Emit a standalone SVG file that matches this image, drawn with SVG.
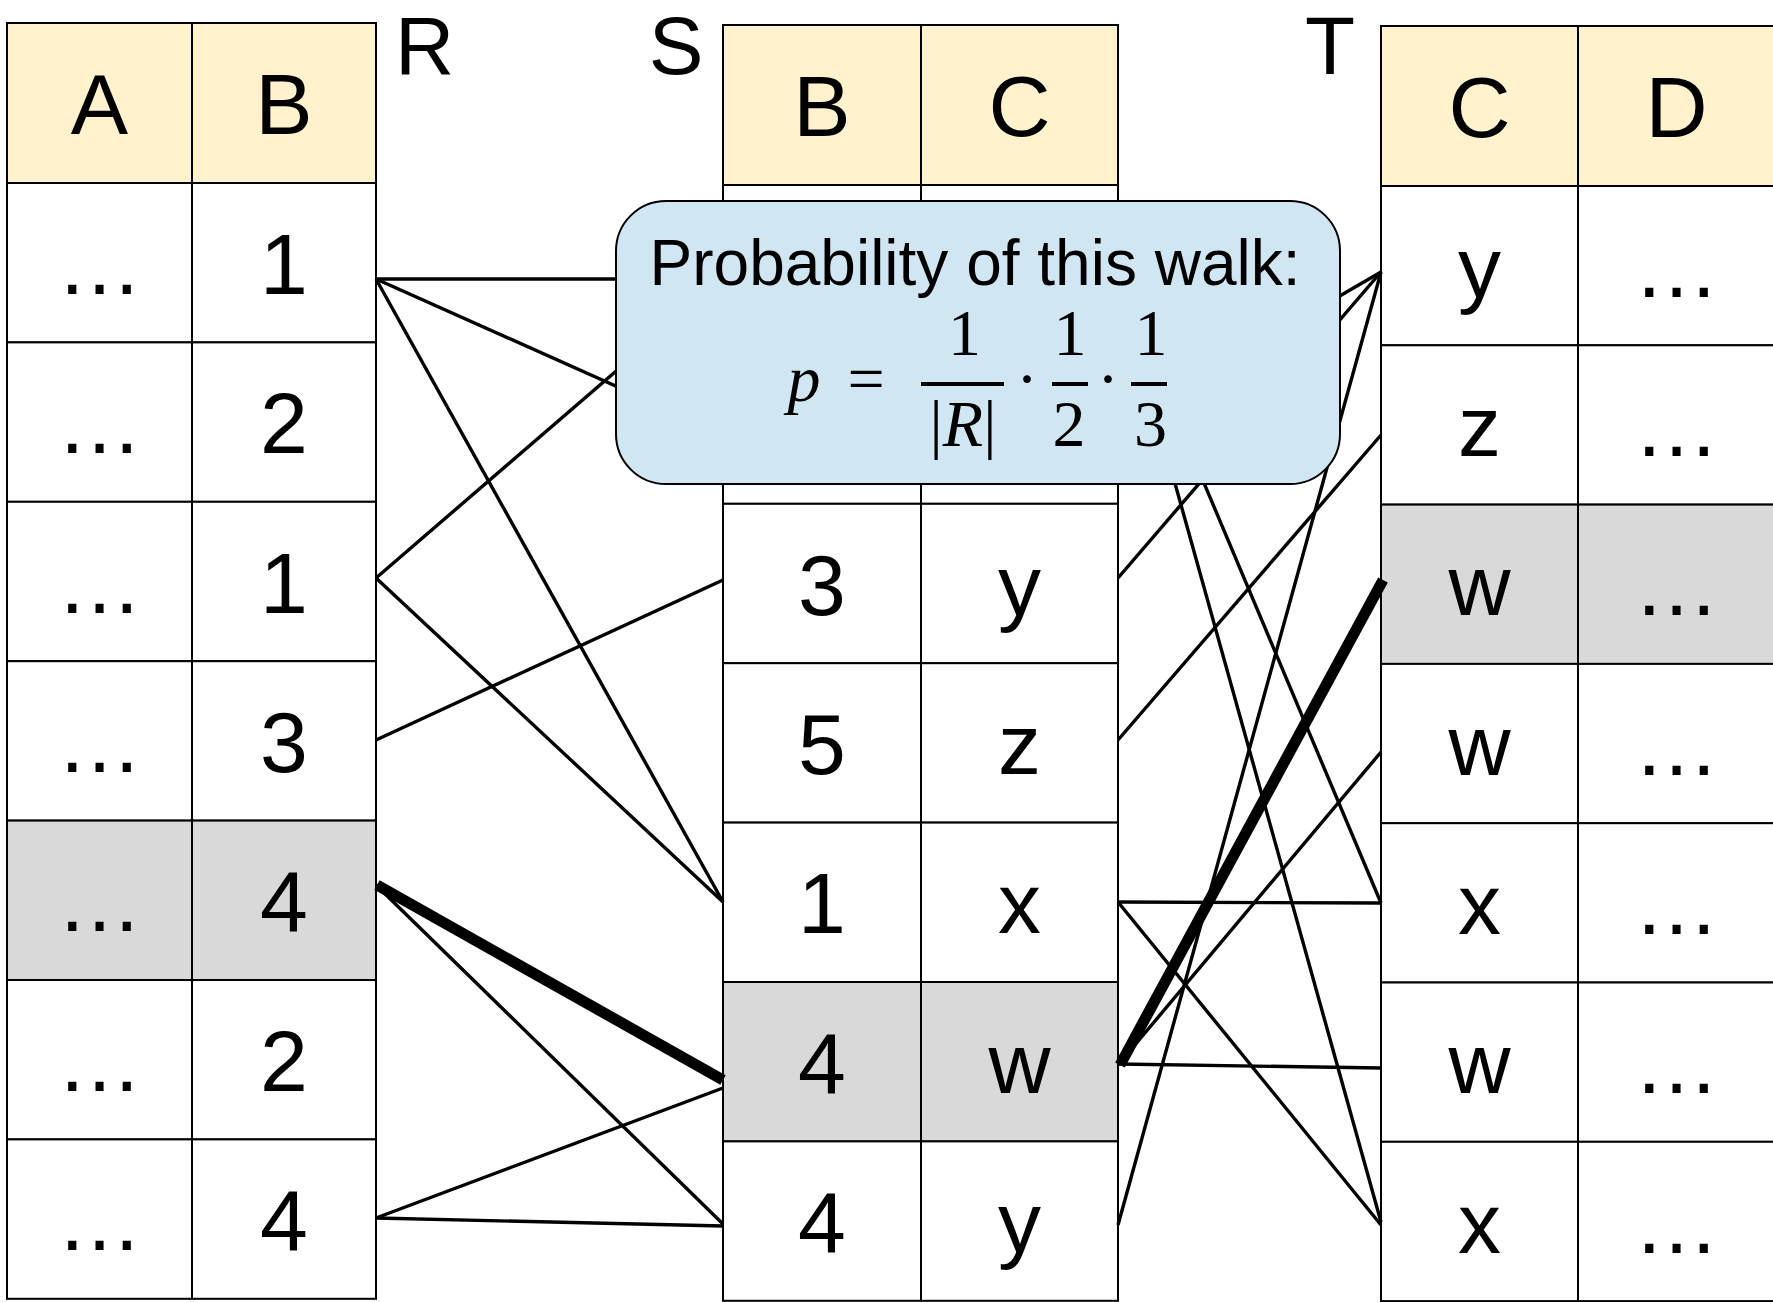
<svg xmlns="http://www.w3.org/2000/svg" width="1773" height="1302" viewBox="0 0 1773 1302">
  <style>
    .c { stroke: #000; stroke-width: 2; fill: #fff; }
    .h { stroke: #000; stroke-width: 2; fill: #FFF2CC; }
    .g { stroke: #000; stroke-width: 2; fill: #D9D9D9; }
    .t { font-family: "Liberation Sans", Arial, sans-serif; font-size: 86px; text-anchor: middle; fill: #000; }
    .lbl { font-family: "Liberation Sans", Arial, sans-serif; font-size: 82px; fill: #000; }
    .edge { stroke: #000; stroke-width: 3.4; fill: none; }
    .walk { stroke: #000; stroke-width: 11; fill: none; }
    .m { font-family: "Liberation Serif", "Times New Roman", serif; font-size: 66px; text-anchor: middle; fill: #000; }
  </style>

  <!-- relation labels -->
  <g id="label-R"><text class="lbl" x="395" y="74">R</text></g>
  <g id="label-S"><text class="lbl" x="676" y="74" text-anchor="middle">S</text></g>
  <g id="label-T"><text class="lbl" x="1330" y="74" text-anchor="middle">T</text></g>

  <!-- table R(A, B) -->
  <g id="table-R">
    <rect class="h" x="7" y="23" width="185" height="160"/>
    <rect class="h" x="192" y="23" width="184" height="160"/>
    <rect class="c" x="7" y="183" width="185" height="159.4"/>
    <rect class="c" x="192" y="183" width="184" height="159.4"/>
    <rect class="c" x="7" y="342.4" width="185" height="159.4"/>
    <rect class="c" x="192" y="342.4" width="184" height="159.4"/>
    <rect class="c" x="7" y="501.8" width="185" height="159.4"/>
    <rect class="c" x="192" y="501.8" width="184" height="159.4"/>
    <rect class="c" x="7" y="661.2" width="185" height="159.4"/>
    <rect class="c" x="192" y="661.2" width="184" height="159.4"/>
    <rect class="g" x="7" y="820.6" width="185" height="159.4"/>
    <rect class="g" x="192" y="820.6" width="184" height="159.4"/>
    <rect class="c" x="7" y="980" width="185" height="159.4"/>
    <rect class="c" x="192" y="980" width="184" height="159.4"/>
    <rect class="c" x="7" y="1139.4" width="185" height="159.4"/>
    <rect class="c" x="192" y="1139.4" width="184" height="159.4"/>
    <text class="t" x="99.5" y="134">A</text>
    <text class="t" x="284" y="134">B</text>
    <text class="t" x="99.5" y="294">…</text><text class="t" x="284" y="294">1</text>
    <text class="t" x="99.5" y="453">…</text><text class="t" x="284" y="453">2</text>
    <text class="t" x="99.5" y="612.5">…</text><text class="t" x="284" y="612.5">1</text>
    <text class="t" x="99.5" y="772">…</text><text class="t" x="284" y="772">3</text>
    <text class="t" x="99.5" y="931">…</text><text class="t" x="284" y="931">4</text>
    <text class="t" x="99.5" y="1091">…</text><text class="t" x="284" y="1091">2</text>
    <text class="t" x="99.5" y="1250">…</text><text class="t" x="284" y="1250">4</text>
  </g>

  <!-- table S(B, C) -->
  <g id="table-S">
    <rect class="h" x="723" y="25" width="198" height="160"/>
    <rect class="h" x="921" y="25" width="197" height="160"/>
    <rect class="c" x="723" y="185" width="198" height="159.4"/>
    <rect class="c" x="921" y="185" width="197" height="159.4"/>
    <rect class="c" x="723" y="344.4" width="198" height="159.4"/>
    <rect class="c" x="921" y="344.4" width="197" height="159.4"/>
    <rect class="c" x="723" y="503.8" width="198" height="159.4"/>
    <rect class="c" x="921" y="503.8" width="197" height="159.4"/>
    <rect class="c" x="723" y="663.2" width="198" height="159.4"/>
    <rect class="c" x="921" y="663.2" width="197" height="159.4"/>
    <rect class="c" x="723" y="822.6" width="198" height="159.4"/>
    <rect class="c" x="921" y="822.6" width="197" height="159.4"/>
    <rect class="g" x="723" y="982" width="198" height="159.4"/>
    <rect class="g" x="921" y="982" width="197" height="159.4"/>
    <rect class="c" x="723" y="1141.4" width="198" height="159.4"/>
    <rect class="c" x="921" y="1141.4" width="197" height="159.4"/>
    <text class="t" x="822" y="136">B</text>
    <text class="t" x="1019.5" y="136">C</text>
    <text class="t" x="822" y="614.5">3</text><text class="t" x="1019.5" y="614.5">y</text>
    <text class="t" x="822" y="774">5</text><text class="t" x="1019.5" y="774">z</text>
    <text class="t" x="822" y="933">1</text><text class="t" x="1019.5" y="933">x</text>
    <text class="t" x="822" y="1093">4</text><text class="t" x="1019.5" y="1093">w</text>
    <text class="t" x="822" y="1252">4</text><text class="t" x="1019.5" y="1252">y</text>
  </g>

  <!-- table T(C, D) -->
  <g id="table-T">
    <rect class="h" x="1381" y="26" width="197" height="160"/>
    <rect class="h" x="1578" y="26" width="198" height="160"/>
    <rect class="c" x="1381" y="186" width="197" height="159.3"/>
    <rect class="c" x="1578" y="186" width="198" height="159.3"/>
    <rect class="c" x="1381" y="345.3" width="197" height="159.3"/>
    <rect class="c" x="1578" y="345.3" width="198" height="159.3"/>
    <rect class="g" x="1381" y="504.6" width="197" height="159.3"/>
    <rect class="g" x="1578" y="504.6" width="198" height="159.3"/>
    <rect class="c" x="1381" y="663.9" width="197" height="159.3"/>
    <rect class="c" x="1578" y="663.9" width="198" height="159.3"/>
    <rect class="c" x="1381" y="823.2" width="197" height="159.3"/>
    <rect class="c" x="1578" y="823.2" width="198" height="159.3"/>
    <rect class="c" x="1381" y="982.5" width="197" height="159.3"/>
    <rect class="c" x="1578" y="982.5" width="198" height="159.3"/>
    <rect class="c" x="1381" y="1141.8" width="197" height="159.3"/>
    <rect class="c" x="1578" y="1141.8" width="198" height="159.3"/>
    <text class="t" x="1479.5" y="137">C</text>
    <text class="t" x="1676.5" y="137">D</text>
    <text class="t" x="1479.5" y="297">y</text><text class="t" x="1676.5" y="297">…</text>
    <text class="t" x="1479.5" y="456">z</text><text class="t" x="1676.5" y="456">…</text>
    <text class="t" x="1479.5" y="615">w</text><text class="t" x="1676.5" y="615">…</text>
    <text class="t" x="1479.5" y="775">w</text><text class="t" x="1676.5" y="775">…</text>
    <text class="t" x="1479.5" y="934">x</text><text class="t" x="1676.5" y="934">…</text>
    <text class="t" x="1479.5" y="1093">w</text><text class="t" x="1676.5" y="1093">…</text>
    <text class="t" x="1479.5" y="1252.5">x</text><text class="t" x="1676.5" y="1252.5">…</text>
  </g>

  <!-- join edges between matching tuples -->
  <g id="connectors">
    <!-- R to S on B -->
    <line class="edge" x1="376" y1="279" x2="723" y2="279"/>
    <line class="edge" x1="376" y1="279" x2="723" y2="434"/>
    <line class="edge" x1="376" y1="279" x2="723" y2="902"/>
    <line class="edge" x1="376" y1="578" x2="723" y2="279"/>
    <line class="edge" x1="376" y1="578" x2="723" y2="902"/>
    <line class="edge" x1="376" y1="740" x2="723" y2="580"/>
    <line class="edge" x1="376" y1="885" x2="723" y2="1224"/>
    <line class="edge" x1="376" y1="1218" x2="723" y2="1088"/>
    <line class="edge" x1="376" y1="1218" x2="723" y2="1226"/>
    <!-- S to T on C -->
    <line class="edge" x1="1118" y1="279" x2="1381" y2="903"/>
    <line class="edge" x1="1118" y1="279" x2="1381" y2="1222"/>
    <line class="edge" x1="1118" y1="425" x2="1381" y2="272"/>
    <line class="edge" x1="1118" y1="578" x2="1381" y2="272"/>
    <line class="edge" x1="1118" y1="740" x2="1381" y2="435"/>
    <line class="edge" x1="1118" y1="902" x2="1381" y2="903"/>
    <line class="edge" x1="1118" y1="902" x2="1381" y2="1225"/>
    <line class="edge" x1="1118" y1="1065" x2="1381" y2="752"/>
    <line class="edge" x1="1118" y1="1064" x2="1381" y2="1068"/>
    <line class="edge" x1="1118" y1="1225" x2="1381" y2="272"/>
    <!-- sampled walk -->
    <line class="walk" x1="377" y1="885" x2="723" y2="1080"/>
    <line class="walk" x1="1120" y1="1065" x2="1383" y2="580"/>
  </g>

  <!-- probability callout -->
  <g id="callout">
    <rect x="616" y="201" width="724" height="283" rx="50" ry="50" fill="#D0E6F2" stroke="#000" stroke-width="2"/>
    <text x="975" y="285" font-family="Liberation Sans, Arial, sans-serif" font-size="64" text-anchor="middle" fill="#000">Probability of this walk:</text>
    <text class="m" x="804" y="401" font-style="italic">p</text>
    <text class="m" x="866" y="401" font-size="74">=</text>
    <text class="m" x="964.5" y="355">1</text>
    <rect x="921" y="382" width="83" height="4" fill="#000"/>
    <text class="m" x="963" y="446">|<tspan font-style="italic">R</tspan>|</text>
    <text class="m" x="1027" y="401">·</text>
    <text class="m" x="1070" y="355">1</text>
    <rect x="1052" y="382" width="36" height="4" fill="#000"/>
    <text class="m" x="1069" y="446">2</text>
    <text class="m" x="1108" y="401">·</text>
    <text class="m" x="1151" y="355">1</text>
    <rect x="1131" y="382" width="36" height="4" fill="#000"/>
    <text class="m" x="1150.5" y="446">3</text>
  </g>
</svg>
